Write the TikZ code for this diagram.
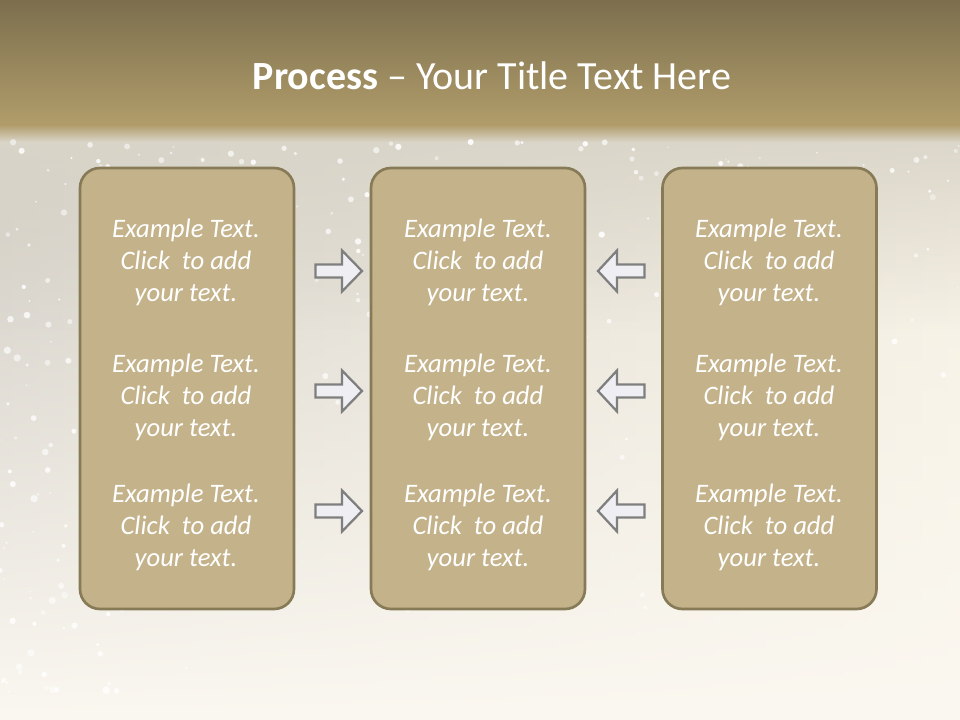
\documentclass[tikz,border=0pt]{standalone}
\usepackage{fontspec}
\setmainfont{Carlito}
\usetikzlibrary{calc,fadings}
\definecolor{bandtop}{HTML}{7C6F4E}
\definecolor{bandbot}{HTML}{B19D6B}
\definecolor{bgtop}{HTML}{DAD5C9}
\definecolor{bgmid}{HTML}{EEE9DD}
\definecolor{bgbot}{HTML}{FBF8F1}
\definecolor{bgside}{HTML}{CFCBC3}
\definecolor{bgright}{HTML}{F6F0E2}
\definecolor{boxfill}{HTML}{C4B38A}
\definecolor{boxline}{HTML}{877A57}
\definecolor{arrfill}{HTML}{EFEFF3}
\definecolor{arrline}{HTML}{7F7F7F}
\tikzfading[name=fadeup, top color=transparent!100, bottom color=transparent!0]
\tikzfading[name=fadedown, top color=transparent!0, bottom color=transparent!100]
\tikzset{
  panel/.style={draw=boxline, line width=2pt, fill=boxfill, rounded corners=15pt},
  paneltext/.style={text=white, font=\fontsize{20}{24}\selectfont\itshape, align=center, inner sep=0pt},
  blockarrow/.style={draw=arrline, line width=1.7pt, fill=arrfill, line join=miter},
  sparkle/.style={fill=white, draw=none}
}
\newcommand{\ptext}{Example Text.\\Click\ \ to add\\your text.}
\begin{document}
\begin{tikzpicture}[x=0.75pt,y=-0.75pt]
\useasboundingbox (0,0) rectangle (960,720);
% background
\shade[left color=bgside, middle color=bgmid, right color=bgright] (0,125) rectangle (960,720);
\fill[bgbot, path fading=fadeup] (0,125) rectangle (960,720);
\fill[bgtop, path fading=fadedown] (0,125) rectangle (960,330);
\shade[top color=bandtop, bottom color=bandbot] (0,0) rectangle (960,125);
\shade[top color=bandbot, bottom color=bgtop] (0,125) rectangle (960,142);
% sparkles
\pgfmathsetseed{42}
\foreach \i in {1,...,220}{
  \pgfmathsetmacro{\sx}{960*rnd}
  \pgfmathsetmacro{\sy}{142+520*rnd*rnd}
  \pgfmathsetmacro{\sr}{0.8+2.4*rnd}
  \pgfmathsetmacro{\so}{0.4+0.5*rnd}
  \fill[sparkle, opacity=\so] (\sx,\sy) circle (\sr);
}
\foreach \i in {1,...,80}{
  \pgfmathsetmacro{\sx}{220*rnd*rnd}
  \pgfmathsetmacro{\sy}{280+420*rnd}
  \pgfmathsetmacro{\sr}{0.8+3*rnd}
  \pgfmathsetmacro{\so}{0.4+0.5*rnd}
  \fill[sparkle, opacity=\so] (\sx,\sy) circle (\sr);
}
% title
\node (title) at (492,76) {\color{white}\fontsize{30}{34}\selectfont\textbf{Process} – Your Title Text Here};
% panels
\node[panel, minimum width=160.5pt, minimum height=330.75pt] (L) at (187,388.5) {};
\node[panel, minimum width=160.5pt, minimum height=330.75pt] (M) at (478,388.5) {};
\node[panel, minimum width=160.5pt, minimum height=330.75pt] (R) at (769.5,388.5) {};
% texts
\foreach \n/\x in {L/186,M/478,R/769}{
  \node[paneltext] (\n1) at (\x,262) {\ptext};
  \node[paneltext] (\n2) at (\x,397) {\ptext};
  \node[paneltext] (\n3) at (\x,527) {\ptext};
}
% arrows
\foreach \y/\k in {271/1,391/2,511/3}{
  \coordinate (ra\k) at (338.5,\y);
  \coordinate (la\k) at (621.5,\y);
  \draw[blockarrow] ($(ra\k)+(-23,-6.5)$) -- ($(ra\k)+(3.5,-6.5)$) -- ($(ra\k)+(3.5,-20.5)$) -- ($(ra\k)+(23.5,0)$) -- ($(ra\k)+(3.5,20.5)$) -- ($(ra\k)+(3.5,6.5)$) -- ($(ra\k)+(-23,6.5)$) -- cycle;
  \draw[blockarrow] ($(la\k)+(23,-6.5)$) -- ($(la\k)+(-4.5,-6.5)$) -- ($(la\k)+(-4.5,-20.5)$) -- ($(la\k)+(-23.5,0)$) -- ($(la\k)+(-4.5,20.5)$) -- ($(la\k)+(-4.5,6.5)$) -- ($(la\k)+(23,6.5)$) -- cycle;
}
\end{tikzpicture}
\end{document}
